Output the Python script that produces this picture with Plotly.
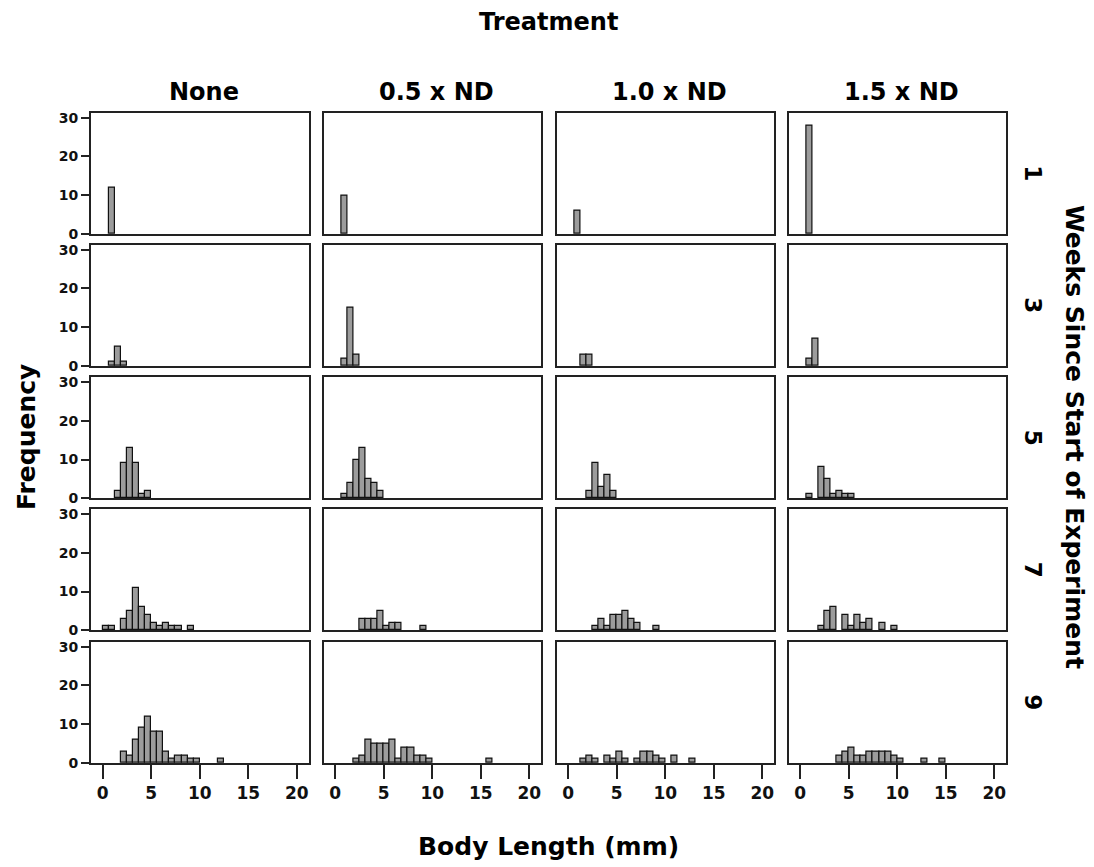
import plotly.graph_objects as go

# ---------------- data ----------------
bin_width = 0.625  # mm, shared bins
treatments = ["None", "0.5 x ND", "1.0 x ND", "1.5 x ND"]
weeks = ["1", "3", "5", "7", "9"]
x_ticks = [0, 5, 10, 15, 20]
y_ticks = [0, 10, 20, 30]

# counts per bin (bin k covers [k*0.625, (k+1)*0.625) mm)
w1_none = [0, 12]
w1_half = [0, 10]
w1_one = [0, 6]
w1_onehalf = [0, 28]

w3_none = [0, 1, 5, 1]
w3_half = [0, 2, 15, 3]
w3_one = [0, 0, 3, 3]
w3_onehalf = [0, 2, 7]

w5_none = [0, 0, 2, 9, 13, 9, 1, 2]
w5_half = [0, 1, 4, 10, 13, 5, 4, 2]
w5_one = [0, 0, 0, 2, 9, 3, 6, 2]
w5_onehalf = [0, 1, 0, 8, 5, 1, 2, 1, 1]

w7_none = [1, 1, 0, 3, 5, 11, 6, 4, 2, 1, 2, 1, 1, 0, 1]
w7_half = [0, 0, 0, 0, 3, 3, 3, 5, 1, 2, 2, 0, 0, 0, 1]
w7_one = [0, 0, 0, 0, 1, 3, 1, 4, 4, 5, 3, 2, 0, 0, 1]
w7_onehalf = [0, 0, 0, 1, 5, 6, 0, 4, 1, 4, 2, 3, 0, 2, 0, 1]

w9_none = [0, 0, 0, 3, 2, 6, 9, 12, 8, 8, 3, 1, 2, 2, 1, 1, 0, 0, 0, 1]
w9_half = [0, 0, 0, 1, 2, 6, 5, 5, 5, 6, 1, 4, 4, 2, 2, 1,
           0, 0, 0, 0, 0, 0, 0, 0, 0, 1]
w9_one = [0, 0, 1, 2, 1, 0, 2, 1, 3, 1, 0, 1, 3, 3, 2, 1, 0, 2, 0, 0, 1]
w9_onehalf = [0, 0, 0, 0, 0, 0, 2, 3, 4, 2, 2, 3, 3, 3, 3, 2, 1,
              0, 0, 0, 1, 0, 0, 1]

panels = [
    [w1_none, w1_half, w1_one, w1_onehalf],
    [w3_none, w3_half, w3_one, w3_onehalf],
    [w5_none, w5_half, w5_one, w5_onehalf],
    [w7_none, w7_half, w7_one, w7_onehalf],
    [w9_none, w9_half, w9_one, w9_onehalf],
]

# ---------------- layout geometry (pixels in the page) ----------------
OFF = 8  # page body margin
W, H = 1094 - OFF, 867 - OFF
col_left = [91, 323.5, 556.5, 788.5]
panel_w = 217.5
row_top = [112.7, 244.7, 377, 509, 641.7]
panel_h = 121.3

def px(x):
    return (x - OFF) / W

def py(y):
    return 1 - (y - OFF) / H

FONT = "DejaVu Sans, Verdana, sans-serif"

fig = go.Figure()
layout_axes = {}
for r in range(5):
    for c in range(4):
        k = r * 4 + c + 1
        counts = panels[r][c]
        xs = [(i + 0.5) * bin_width for i, v in enumerate(counts) if v > 0]
        ys = [v for v in counts if v > 0]
        fig.add_trace(go.Bar(
            x=xs, y=ys, width=bin_width,
            marker=dict(color="#9c9c9c", line=dict(color="#111111", width=1.2)),
            xaxis=f"x{k}", yaxis=f"y{k}", showlegend=False,
            hoverinfo="x+y",
        ))
        xa = dict(
            domain=[px(col_left[c]), px(col_left[c] + panel_w)],
            range=[-1.2, 21.2], anchor=f"y{k}", automargin=False,
            showline=True, mirror=True, linecolor="#222222", linewidth=2,
            showgrid=False, zeroline=False,
            tickvals=x_ticks,
            ticks="outside" if r == 4 else "", ticklen=14, tickwidth=2,
            tickcolor="#222222",
            showticklabels=(r == 4),
            tickfont=dict(family=FONT, size=17, color="#111111", weight="bold"),
        )
        ya = dict(
            domain=[py(row_top[r] + panel_h), py(row_top[r])],
            range=[0, 31.3], anchor=f"x{k}", automargin=False,
            showline=True, mirror=True, linecolor="#222222", linewidth=2,
            showgrid=False, zeroline=False,
            tickvals=y_ticks,
            ticks="outside" if c == 0 else "", ticklen=8, tickwidth=2,
            tickcolor="#222222",
            showticklabels=(c == 0),
            tickfont=dict(family=FONT, size=14, color="#111111", weight="bold"),
        )
        layout_axes["xaxis" if k == 1 else f"xaxis{k}"] = xa
        layout_axes["yaxis" if k == 1 else f"yaxis{k}"] = ya

def label(x, y, text, size, angle=0):
    return dict(x=px(x), y=py(y), xref="paper", yref="paper", text=text,
                showarrow=False, textangle=angle,
                font=dict(family=FONT, size=size, color="#000", weight="bold"),
                xanchor="center", yanchor="middle")

annotations = []
for c, t in enumerate(treatments):
    annotations.append(label(col_left[c] + panel_w / 2 + 4, 92, t, 24))
for r, wk in enumerate(weeks):
    annotations.append(label(1033, row_top[r] + panel_h / 2, wk, 23, 90))
annotations += [
    label(548, 22, "Treatment", 24),
    label(548, 846, "Body Length (mm)", 25),
    label(26, 437, "Frequency", 25, -90),
    label(1075, 437, "Weeks Since Start of Experiment", 25, 90),
]

fig.update_layout(
    template="none",
    width=W, height=H, margin=dict(l=0, r=0, t=0, b=0, pad=0, autoexpand=False),
    autosize=False,
    paper_bgcolor="white", plot_bgcolor="white",
    bargap=0, annotations=annotations,
    font=dict(family=FONT, color="#111111"),
    **layout_axes,
)

fig.write_html("out.html")
